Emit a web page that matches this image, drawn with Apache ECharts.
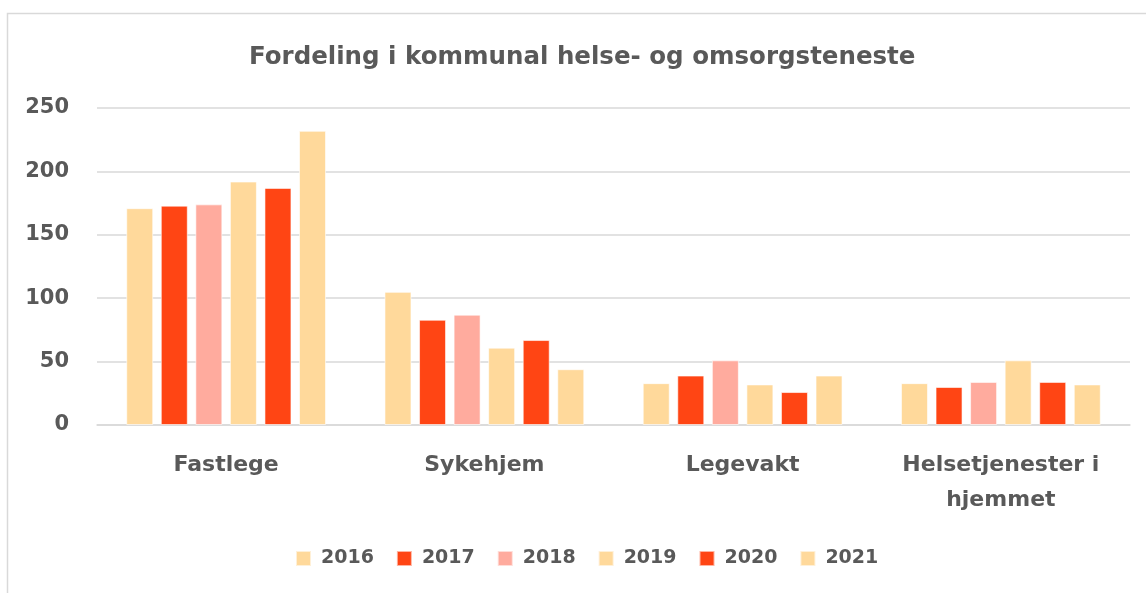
<!DOCTYPE html>
<html>
<head>
<meta charset="utf-8">
<script src="https://cdn.jsdelivr.net/npm/echarts@6/dist/echarts.min.js"></script>
<style>html,body{margin:0;padding:0;background:#fff;}#c{width:1146px;height:593px;}</style>
</head>
<body>
<div id="c"></div>
<script>
const categories = ['Fastlege', 'Sykehjem', 'Legevakt', 'Helsetjenester i\nhjemmet'];
const years = ['2016', '2017', '2018', '2019', '2020', '2021'];
const v2016 = [171, 105, 33, 33];
const v2017 = [173, 83, 39, 30];
const v2018 = [174, 87, 51, 34];
const v2019 = [192, 61, 32, 51];
const v2020 = [187, 67, 26, 34];
const v2021 = [232, 44, 39, 32];
const yTicks = [0, 50, 100, 150, 200, 250];
const colors = ['#FFD99B', '#FF4514', '#FFAB9E', '#FFD99B', '#FF4514', '#FFD99B'];
const seriesValues = [v2016, v2017, v2018, v2019, v2020, v2021];

const FONT = 'DejaVu Sans';
const TXT = '#595959';
const chart = echarts.init(document.getElementById('c'));
chart.setOption({
  animation: false,
  backgroundColor: '#fff',
  textStyle: { fontFamily: FONT },
  title: {
    text: 'Fordeling i kommunal helse- og omsorgsteneste',
    left: 244, top: 40,
    textStyle: { fontFamily: FONT, fontSize: 24.5, fontWeight: 700, color: TXT }
  },
  graphic: [{
    type: 'rect', shape: { x: 7.5, y: 13.5, width: 1150, height: 600 },
    style: { fill: 'none', stroke: '#D9D9D9', lineWidth: 1.5 }, silent: true
  }],
  legend: {
    bottom: 20, left: 290,
    itemWidth: 15, itemHeight: 15, itemGap: 22,
    icon: 'rect',
    textStyle: { fontFamily: FONT, fontSize: 19, fontWeight: 700, color: TXT, padding: [0, 0, 0, 5] },
    data: years
  },
  grid: { left: 97, right: 16, top: 108, bottom: 168, containLabel: false },
  xAxis: {
    type: 'category', data: categories,
    axisLine: { lineStyle: { color: '#D9D9D9', width: 1.5 } },
    axisTick: { show: false },
    axisLabel: { fontFamily: FONT, fontSize: 22, fontWeight: 700, color: TXT, margin: 23, lineHeight: 35, interval: 0 }
  },
  yAxis: {
    type: 'value', min: 0, max: 250, interval: 50,
    axisLine: { show: false }, axisTick: { show: false },
    splitLine: { lineStyle: { color: '#D9D9D9', width: 1.5 } },
    axisLabel: { fontFamily: FONT, fontSize: 21, fontWeight: 700, color: TXT, margin: 28,
      formatter: v => yTicks.includes(v) ? String(v) : '' }
  },
  series: years.map((y, i) => ({
    name: y, type: 'bar', data: seriesValues[i],
    barWidth: 27, barGap: '28%',
    itemStyle: { color: colors[i], borderColor: 'rgba(255,255,255,0.6)', borderWidth: 1 }
  }))
});
</script>
</body>
</html>
